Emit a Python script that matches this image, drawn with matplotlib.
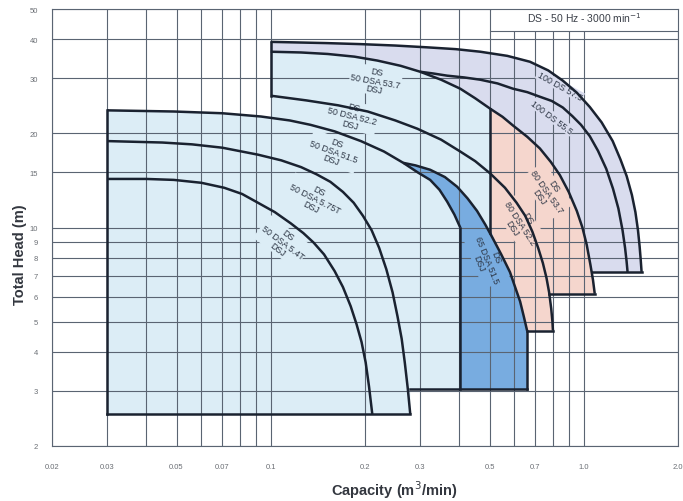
import matplotlib
matplotlib.use("Agg")
import matplotlib.pyplot as plt
from matplotlib.patches import Polygon, Rectangle
import numpy as np

plt.rcParams['font.family'] = ['Liberation Sans', 'DejaVu Sans']

# ---------------- data ----------------
x_major = [0.02, 0.03, 0.05, 0.07, 0.1, 0.2, 0.3, 0.5, 0.7, 1.0, 2.0]
x_labels = ["0.02", "0.03", "0.05", "0.07", "0.1", "0.2", "0.3", "0.5", "0.7", "1.0", "2.0"]
x_minor = [0.04, 0.06, 0.08, 0.09, 0.4, 0.6, 0.8, 0.9]
y_ticks = [2, 3, 4, 5, 6, 7, 8, 9, 10, 15, 20, 30, 40, 50]
y_labels = [str(v) for v in y_ticks]

# 50 DSA 5.4T
q_54 = [0.030, 0.040, 0.049, 0.060, 0.071, 0.081, 0.091, 0.103, 0.116, 0.127, 0.137,
        0.148, 0.160, 0.170, 0.180, 0.188, 0.195, 0.201, 0.206, 0.211]
h_54 = [14.3, 14.3, 14.2, 13.9, 13.4, 12.8, 12.0, 11.2, 10.3, 9.6, 8.95,
        8.2, 7.25, 6.45, 5.6, 4.9, 4.3, 3.7, 3.1, 2.53]
# 50 DSA 5.75T
q_575 = [0.030, 0.045, 0.056, 0.070, 0.091, 0.108, 0.125, 0.140, 0.155, 0.170, 0.184,
         0.197, 0.210, 0.222, 0.234, 0.245, 0.254, 0.262, 0.268, 0.274, 0.279]
h_575 = [18.9, 18.7, 18.45, 18.0, 17.1, 16.4, 15.6, 14.8, 14.0, 13.0, 12.0,
         10.9, 9.8, 8.6, 7.35, 6.2, 5.2, 4.4, 3.7, 3.05, 2.53]
# 50 DSA 51.5
q_515 = [0.030, 0.049, 0.070, 0.093, 0.115, 0.134, 0.160, 0.194, 0.230, 0.265, 0.295,
         0.323, 0.346, 0.366, 0.386, 0.403]
h_515 = [23.7, 23.5, 23.2, 22.65, 22.0, 21.3, 20.3, 18.9, 17.5, 16.1, 15.0,
         14.2, 13.2, 12.1, 11.0, 10.0]
# 65 DSA 51.5
q_65 = [0.265, 0.290, 0.323, 0.360, 0.394, 0.425, 0.456, 0.485, 0.513, 0.545, 0.581,
        0.605, 0.626, 0.643, 0.659]
h_65 = [16.1, 15.8, 15.3, 14.5, 13.5, 12.4, 11.3, 10.2, 9.2, 8.2, 7.2,
        6.4, 5.8, 5.2, 4.68]
# 50/80 DSA 52.2
q_522 = [0.100, 0.130, 0.164, 0.204, 0.250, 0.294, 0.350, 0.403, 0.450, 0.502, 0.560,
         0.610, 0.650, 0.685, 0.715, 0.740, 0.760, 0.775, 0.787, 0.794, 0.797]
h_522 = [26.4, 25.5, 24.6, 23.5, 22.0, 20.7, 19.1, 17.5, 16.3, 14.9, 13.4,
         12.0, 10.9, 9.7, 8.6, 7.7, 6.9, 6.2, 5.5, 5.0, 4.68]
# 50/80 DSA 53.7
q_537 = [0.100, 0.125, 0.152, 0.185, 0.219, 0.260, 0.300, 0.350, 0.403, 0.450, 0.502,
         0.550, 0.594, 0.660, 0.724, 0.785, 0.839, 0.895, 0.950, 0.990, 1.022, 1.050,
         1.070, 1.084]
h_537 = [36.5, 36.3, 35.9, 35.2, 34.2, 32.9, 31.5, 29.7, 27.8, 25.9, 24.0,
         22.6, 21.2, 19.5, 17.9, 16.2, 14.7, 13.0, 11.3, 10.0, 8.8, 7.6,
         6.8, 6.14]
# 100 DS 55.5
q_555 = [0.300, 0.330, 0.366, 0.415, 0.467, 0.530, 0.594, 0.660, 0.724, 0.790, 0.857,
         0.920, 0.980, 1.045, 1.110, 1.180, 1.240, 1.290, 1.330, 1.355, 1.370, 1.380]
h_555 = [31.5, 31.1, 30.6, 30.2, 29.7, 28.9, 27.8, 27.1, 26.2, 25.4, 24.2,
         22.7, 21.3, 19.6, 17.6, 15.4, 13.3, 11.5, 9.8, 8.6, 7.8, 7.21]
# 100 DS 57.5
q_575b = [0.100, 0.150, 0.194, 0.250, 0.316, 0.390, 0.467, 0.570, 0.673, 0.770, 0.857,
          0.950, 1.045, 1.140, 1.237, 1.310, 1.371, 1.425, 1.462, 1.490, 1.508, 1.520, 1.530]
h_575b = [39.25, 38.9, 38.6, 38.2, 37.7, 37.2, 36.5, 35.4, 33.9, 31.8, 29.5,
          27.0, 24.3, 21.7, 18.9, 16.5, 14.6, 12.7, 11.2, 9.8, 8.7, 7.9, 7.21]

# region limits
h_min_50 = 2.53
h_min_65 = 3.04
h_min_80a = 4.68
h_min_80b = 6.14
h_min_100 = 7.21
q_left_50 = 0.03
q_left_upper = 0.1
q_left_65 = 0.403
q_left_80 = 0.502

C_LB = '#dcedf6'
C_DB = '#78ace0'
C_PK = '#f5d6cd'
C_LV = '#d9dcee'

labels = [
    ("DS\n50 DSA 5.4T\nDSJ", 0.109, 9.0, -37, C_LB),
    ("DS\n50 DSA 5.75T\nDSJ", 0.138, 12.4, -27, C_LB),
    ("DS\n50 DSA 51.5\nDSJ", 0.159, 17.5, -20, C_LB),
    ("DS\n50 DSA 52.2\nDSJ", 0.182, 22.8, -14, C_LB),
    ("DS\n50 DSA 53.7\nDSJ", 0.216, 29.5, -10, C_LB),
    ("100 DS 57.5", 0.839, 28.4, -29, C_LV),
    ("100 DS 55.5", 0.791, 22.6, -37, C_LV),
    ("DS\n80 DSA 53.7\nDSJ", 0.762, 13.07, -55, C_PK),
    ("DS\n80 DSA 52.2\nDSJ", 0.625, 10.33, -57, C_PK),
    ("DS\n65 DSA 51.5\nDSJ", 0.491, 7.88, -68, C_DB),
]

# ---------------- helpers ----------------
def h_at(qs, hs, q):
    return 10 ** np.interp(np.log10(q), np.log10(qs), np.log10(hs))

def q_at(qs, hs, h):
    return 10 ** np.interp(np.log10(h), np.log10(hs[::-1]), np.log10(qs[::-1]))

C_LINE = '#1a2230'
C_GRID = '#5a6472'

fig = plt.figure(figsize=(6.83, 5.02), dpi=100)
ax = fig.add_axes([52/683, 1-447/502, 626/683, 437/502])
ax.set_xscale('log')
ax.set_yscale('log')
ax.set_xlim(0.02, 2.0)
ax.set_ylim(2, 50)

for v in x_major + x_minor:
    ax.axvline(v, color=C_GRID, lw=0.8, zorder=1)
for v in y_ticks:
    ax.axhline(v, color=C_GRID, lw=0.8, zorder=1)

# ---------------- filled regions ----------------
q537_low = q_at(q_537, h_537, h_min_100)
lv_x = list(q_575b) + [q537_low] + [q for q in q_537[::-1] if q < q537_low]
lv_y = list(h_575b) + [h_min_100] + [h for q, h in zip(q_537[::-1], h_537[::-1]) if q < q537_low]
ax.add_patch(Polygon(np.column_stack([lv_x, lv_y]), closed=True, fc=C_LV, ec='none', zorder=0.5))

lb_x = [q_left_50] + [q for q in q_515 if q < q_left_upper] + [q_left_upper]
lb_y = [h_min_50] + [h for q, h in zip(q_515, h_515) if q < q_left_upper] + [h_at(q_515, h_515, q_left_upper)]
lb_x += [q for q in q_537 if q <= q_left_80] + [q_left_80, q_575[-1], q_575[-1]]
lb_y += [h for q, h in zip(q_537, h_537) if q <= q_left_80] + [h_min_65, h_min_65, h_min_50]
ax.add_patch(Polygon(np.column_stack([lb_x, lb_y]), closed=True, fc=C_LB, ec='none', zorder=0.5))

back_515 = [(q, h) for q, h in zip(q_515[::-1], h_515[::-1]) if q_65[0] < q < q_left_65]
db_x = list(q_65) + [q_65[-1], q_left_65, q_left_65] + [p[0] for p in back_515]
db_y = list(h_65) + [h_min_65, h_min_65, h_515[-1]] + [p[1] for p in back_515]
ax.add_patch(Polygon(np.column_stack([db_x, db_y]), closed=True, fc=C_DB, ec='none', zorder=0.6))

q522_b = q_at(q_522, h_522, h_min_80b)
pk_x = [q for q in q_537 if q >= q_left_80] + [q522_b] + [q for q in q_522 if q > q522_b]
pk_y = [h for q, h in zip(q_537, h_537) if q >= q_left_80] + [h_min_80b] + [h for q, h in zip(q_522, h_522) if q > q522_b]
pk_x += [q_65[-1]] + [q for q in q_65[::-1] if q_left_80 < q < q_65[-1]] + [q_left_80]
pk_y += [h_min_80a] + [h for q, h in zip(q_65[::-1], h_65[::-1]) if q_left_80 < q < q_65[-1]] + [h_at(q_65, h_65, q_left_80)]
ax.add_patch(Polygon(np.column_stack([pk_x, pk_y]), closed=True, fc=C_PK, ec='none', zorder=0.6))

# ---------------- outlines ----------------
lw = 1.8
for qs, hs in [(q_54, h_54), (q_575, h_575), (q_515, h_515), (q_65, h_65),
               (q_522, h_522), (q_537, h_537), (q_555, h_555), (q_575b, h_575b)]:
    ax.plot(qs, hs, color=C_LINE, lw=lw, zorder=3, solid_capstyle='butt', solid_joinstyle='round')

segs = [
    ([q_left_50, q_left_50], [h_min_50, h_515[0]]),
    ([q_left_50, q_575[-1]], [h_min_50, h_min_50]),
    ([q_575[-1], q_65[-1]], [h_min_65, h_min_65]),
    ([q_left_upper, q_left_upper], [h_522[0], h_575b[0]]),
    ([q_left_65, q_left_65], [h_min_65, h_515[-1]]),
    ([q_65[-1], q_65[-1]], [h_min_65, h_65[-1]]),
    ([q_left_80, q_left_80], [h_at(q_65, h_65, q_left_80), h_at(q_537, h_537, q_left_80)]),
    ([q_65[-1], q_522[-1]], [h_min_80a, h_min_80a]),
    ([q522_b, q_537[-1]], [h_min_80b, h_min_80b]),
    ([q537_low, q_575b[-1]], [h_min_100, h_min_100]),
]
for xs, ys in segs:
    ax.plot(xs, ys, color=C_LINE, lw=lw, zorder=3, solid_capstyle='projecting')

# ---------------- labels ----------------
for txt, qx, hy, rot, bg in labels:
    ax.text(qx, hy, txt, rotation=rot, rotation_mode='anchor', ha='center', va='center',
            multialignment='center', fontsize=6.4, color='#2c3544', linespacing=1.0,
            zorder=2.5, bbox=dict(boxstyle='square,pad=0.1', fc=bg, ec='none'))

# title box
ax.add_patch(Rectangle((0.51, 42.5), 2.0 - 0.51, 50 - 42.5, fc='white', ec='none', zorder=2))
ax.plot([0.5, 2.0], [42.5, 42.5], color=C_GRID, lw=0.8, zorder=2.1)
ax.text(0.85, 0.982, "DS - 50 Hz - 3000 min$^{-1}$", transform=ax.transAxes,
        ha='center', va='center', fontsize=7.5, color='#3a3f48', zorder=5)

# ticks
ax.set_xticks(x_major)
ax.set_xticklabels(x_labels)
ax.set_xticks(x_minor, minor=True)
ax.set_xticklabels([], minor=True)
ax.set_yticks(y_ticks)
ax.set_yticklabels(y_labels)
ax.yaxis.set_minor_locator(matplotlib.ticker.NullLocator())
ax.tick_params(axis='both', which='both', length=0, labelsize=5.5, labelcolor='#6a6e74')
ax.tick_params(axis='x', pad=12)
ax.tick_params(axis='y', pad=10)

for s in ax.spines.values():
    s.set_color(C_GRID)
    s.set_linewidth(0.8)

fig.text(20/683, 1-255/502, "Total Head (m)", rotation=90, ha='center', va='center',
         fontsize=10.5, fontweight='bold', color='#33373f')
fig.text(394/683, 1-490/502, "Capacity (m$^3$/min)", ha='center', va='center',
         fontsize=10.5, fontweight='bold', color='#33373f')

fig.savefig("out.png", dpi=100, facecolor='white')
